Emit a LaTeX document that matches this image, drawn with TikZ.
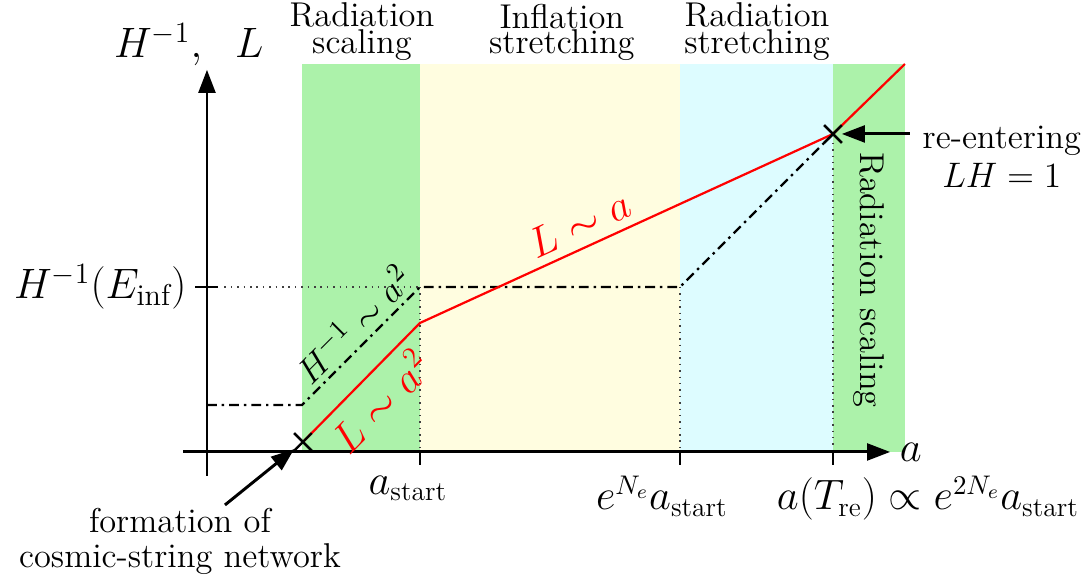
\documentclass[tikz,border=0pt]{standalone}
\usepackage{amsmath,amssymb}
\usepackage{xcolor}
\usepackage{tikz}
\usetikzlibrary{arrows.meta,positioning,shapes.misc}
\definecolor{bandgreen}{RGB}{172,242,170}
\definecolor{bandyellow}{RGB}{255,253,224}
\definecolor{bandcyan}{RGB}{221,252,255}
\tikzset{
  axis/.style={-{Triangle[length=3.3mm,width=2.4mm]}, line width=1.2pt},
  pointer/.style={-{Triangle[length=3.3mm,width=2.4mm]}, line width=1.2pt},
  hubble/.style={line width=0.9pt, dash pattern=on 4pt off 2pt on 1pt off 2pt},
  strlen/.style={red, line width=0.9pt},
  guide/.style={dotted, line width=0.6pt, black!75},
  tick/.style={line width=0.6pt},
  eventmark/.style={draw, cross out, line width=0.9pt, minimum size=2.2mm, inner sep=0pt},
  bandlabel/.style={align=center, inner sep=1pt, font=\fontsize{14}{10}\selectfont},
  notelabel/.style={align=center, font=\fontsize{14}{16}\selectfont},
  mathlabel/.style={font=\fontsize{17.5}{20}\selectfont},
  ticklabel/.style={anchor=north, font=\fontsize{16}{19}\selectfont}
}

\begin{document}
\begin{tikzpicture}[x=1cm, y=1cm]
\useasboundingbox (-2.957,-1.771) rectangle (12.629,6.457);

% background eras
\fill[bandgreen] (1.357,0) rectangle (3.043,5.543);
\fill[bandyellow] (3.043,0) rectangle (6.757,5.543);
\fill[bandcyan] (6.757,0) rectangle (8.943,5.543);
\fill[bandgreen] (8.943,0) rectangle (9.971,5.543);

\node[bandlabel, anchor=south] (era1) at (2.214,5.55) {Radiation\\scaling};
\node[bandlabel, anchor=south] (era2) at (5.07,5.55) {Inflation\\stretching};
\node[bandlabel, anchor=south] (era3) at (7.857,5.55) {Radiation\\stretching};
\node[bandlabel, rotate=-90] (era4) at (9.457,2.457) {Radiation scaling};

% key points
\coordinate (hstart) at (0,0.671);
\coordinate (hbend) at (1.357,0.671);
\coordinate (hinf) at (3.043,2.357);
\coordinate (hend) at (6.757,2.357);
\node[eventmark] (form) at (1.371,0.143) {};
\coordinate (lkink) at (3.043,1.843);
\node[eventmark] (reent) at (8.943,4.543) {};
\coordinate (ltop) at (9.971,5.543);

% guides
\draw[tick] (-0.17,2.357) -- (0.157,2.357);
\draw[guide] (0.25,2.357) -- (hinf);
\draw[guide] (hinf) -- (3.043,0);
\draw[guide] (hend) -- (6.757,0);
\draw[guide] (reent) -- (8.943,0);
\foreach \xt in {3.043,6.757,8.943}
  \draw[tick] (\xt,0) -- (\xt,-0.186);

% axes
\draw[axis] (-0.34,0) -- (9.76,0) node[mathlabel, right] (xlab) {$a$};
\draw[axis] (0,-0.34) -- (0,5.46);
\node[mathlabel] (ylab) at (-0.26,5.82) {$H^{-1},\ \ L$};
\node[mathlabel, anchor=east] (hlab) at (-0.17,2.357) {$H^{-1}(E_{\text{inf}})$};

\node[ticklabel] (t1) at (2.871,-0.22) {$a_{\text{start}}$};
\node[ticklabel] (t2) at (6.5,-0.22) {$e^{N_e}a_{\text{start}}$};
\node[ticklabel] (t3) at (10.3,-0.22) {$a(T_{\text{re}})\propto e^{2N_e}a_{\text{start}}$};

% Hubble radius
\draw[hubble] (hstart) -- (hbend)
  -- node[sloped, above, pos=0.56, inner sep=2pt, font=\fontsize{15.5}{18}\selectfont] (hlaw) {$H^{-1}\sim a^2$} (hinf)
  -- (hend) -- (reent.center);

% string length
\draw[strlen] (form.center)
  -- node[mathlabel, sloped, below, pos=0.5] (llaw1) {$L\sim a^2$} (lkink)
  -- node[mathlabel, sloped, above, pos=0.41] (llaw2) {$L\sim a$} (reent.center)
  -- (ltop);
\node[eventmark] at (form) {};
\node[eventmark] at (reent) {};

% annotations
\node[notelabel] (formtext) at (-0.386,-1.28) {formation of\\[-2pt]cosmic-string network};
\coordinate (formtail) at (0.257,-0.757);
\draw[pointer] (formtail) -- (form);
\node[notelabel, anchor=west] (reenttext) at (10.1,4.22) {re-entering\\$LH=1$};
\coordinate (reenttail) at (10.04,4.543);
\draw[pointer] (reenttail) -- (reent);
\end{tikzpicture}
\end{document}
